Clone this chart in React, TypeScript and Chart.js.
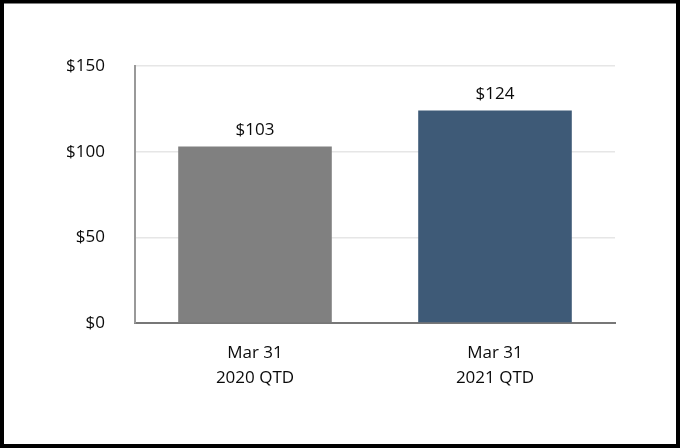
import React, { useEffect, useRef } from "react";
import { Chart, registerables } from "chart.js";

Chart.register(...registerables);

const categories: string[][] = [["Mar 31", "2020 QTD"], ["Mar 31", "2021 QTD"]];
const values: number[] = [103, 124];
const barColors: string[] = ["#808080", "#3e5a77"];
const yTicks: number[] = [0, 50, 100, 150];

const FONT = "'Open Sans', Lato, sans-serif";

const valueLabels = {
  id: "valueLabels",
  afterDatasetsDraw(chart: any) {
    const ctx = chart.ctx;
    const meta = chart.getDatasetMeta(0);
    ctx.save();
    ctx.font = `500 17px ${FONT}`;
    ctx.fillStyle = "#0a0a0a";
    ctx.textAlign = "center";
    ctx.textBaseline = "bottom";
    meta.data.forEach((bar: any, i: number) => {
      ctx.fillText("$" + values[i], bar.x, bar.y - 8);
    });
    ctx.restore();
  },
};

const frame = {
  id: "frame",
  afterDraw(chart: any) {
    const ctx = chart.ctx;
    ctx.save();
    ctx.strokeStyle = "#000";
    ctx.lineWidth = 4;
    ctx.strokeRect(2, 1.5, chart.width - 4, chart.height - 3.5);
    ctx.restore();
  },
};

export default function App() {
  const ref = useRef<HTMLCanvasElement | null>(null);
  useEffect(() => {
    document.body.style.margin = "0";
    const chart = new Chart(ref.current as HTMLCanvasElement, {
      type: "bar",
      data: {
        labels: categories,
        datasets: [
          {
            data: values,
            backgroundColor: barColors,
            barPercentage: 0.64,
            categoryPercentage: 1,
          },
        ],
      },
      options: {
        animation: false,
        responsive: false,
        layout: { padding: { top: 66, right: 65, left: 0, bottom: 0 } },
        plugins: { legend: { display: false }, tooltip: { enabled: false } },
        scales: {
          x: {
            grid: { display: false, drawTicks: false },
            border: { display: true, color: "#777", width: 2 },
            ticks: {
              color: "#0a0a0a",
              font: { family: FONT, size: 17, weight: 500, lineHeight: 1.47 },
              padding: 18,
              maxRotation: 0,
            },
            afterFit(scale: any) {
              scale.height = 125;
            },
          },
          y: {
            min: 0,
            max: 150,
            afterBuildTicks(scale: any) {
              scale.ticks = yTicks.map((v) => ({ value: v }));
            },
            grid: { color: "#e6e6e6", lineWidth: 1.5, drawTicks: false },
            border: { display: true, color: "#999", width: 2 },
            ticks: {
              color: "#0a0a0a",
              font: { family: FONT, size: 17, weight: 500 },
              padding: 30,
              callback: (v: any) => "$" + v,
            },
            afterFit(scale: any) {
              scale.width = 135;
            },
          },
        },
      },
      plugins: [valueLabels, frame],
    });
    return () => chart.destroy();
  }, []);
  return (
    <div style={{ width: 680, height: 448, background: "#fff" }}>
      <canvas ref={ref} width={680} height={448} />
    </div>
  );
}
